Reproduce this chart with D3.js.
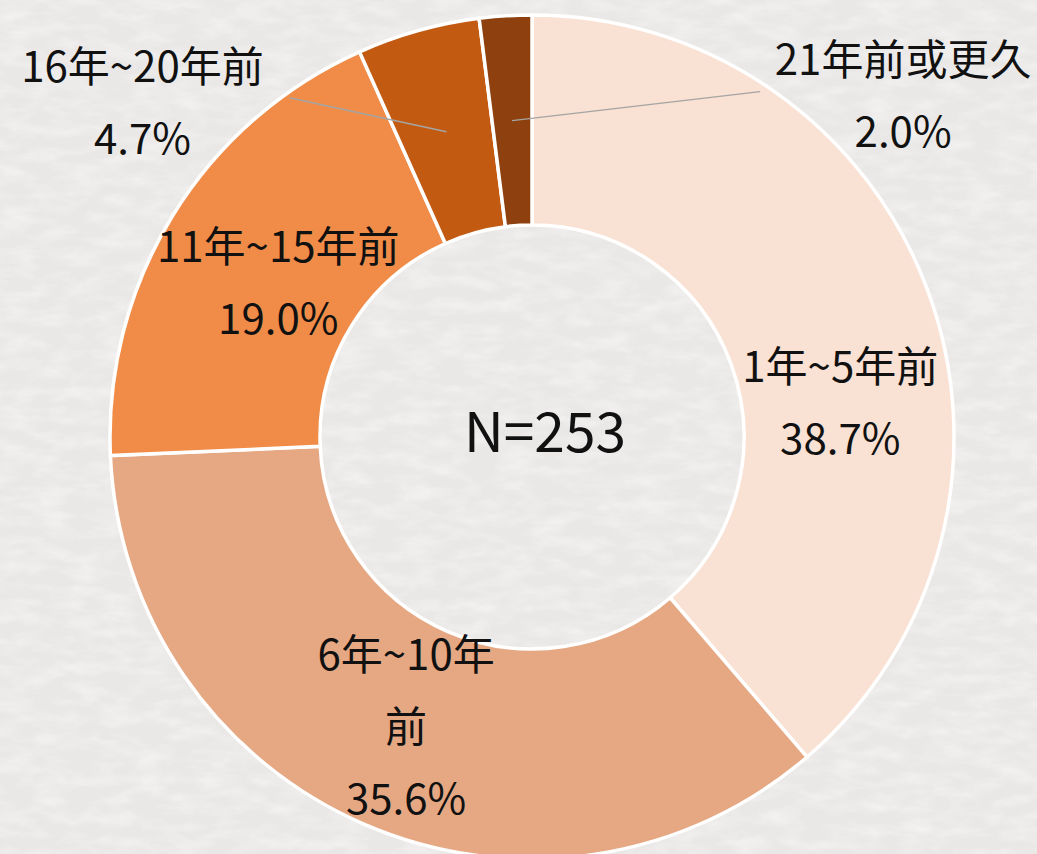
<!DOCTYPE html>
<html>
<head>
<meta charset="utf-8">
<script src="https://cdn.jsdelivr.net/npm/d3@7"></script>
<style>
  html, body { margin: 0; padding: 0; background: #ecebea; }
  svg { display: block; }
  text { font-family: "Noto Sans CJK TC", "Noto Sans", sans-serif; fill: #111; }
</style>
</head>
<body>
<svg id="vis"></svg>
<script>
// data
var categories = ["1年~5年前", "6年~10年前", "11年~15年前", "16年~20年前", "21年前或更久"];
var percents = [38.7, 35.6, 19.0, 4.7, 2.0];
var sampleSize = 253;
var sliceColours = ["#f9e1d3", "#e6a883", "#f08c48", "#c35a12", "#8e410e"];

// how each label is broken into lines
var labelLines = [
    ["1年~5年前"],
    ["6年~10年", "前"],
    ["11年~15年前"],
    ["16年~20年前"],
    ["21年前或更久"]
];
// label block centre, offset from the slice centroid
var labelShift = [[11, 73], [0, -4], [16, 9], [-304, -32], [391, -28]];
// leader lines only for the two thin slices, end point offset from centroid
var leaderEnd = [null, null, null, [-157, -34], [248, -29]];

var w = 1037;
var h = 854;
var cx = 532, cy = 437;
var outerR = 422, innerR = 212;
var lineGap = 72;

var svg = d3.select("#vis").attr("width", w).attr("height", h);

// paper texture background
var defs = svg.append("defs");
var filt = defs.append("filter").attr("id", "paper")
    .attr("x", 0).attr("y", 0).attr("width", "100%").attr("height", "100%");
filt.append("feTurbulence")
    .attr("type", "fractalNoise")
    .attr("baseFrequency", "0.03 0.08")
    .attr("numOctaves", 4)
    .attr("seed", 3)
    .attr("result", "noise");
filt.append("feColorMatrix")
    .attr("in", "noise")
    .attr("type", "matrix")
    .attr("values", "0 0 0 0 1  0 0 0 0 1  0 0 0 0 1  0 0 0 1.3 -0.5");

svg.append("rect").attr("width", w).attr("height", h).attr("fill", "#eae8e7");
svg.append("rect").attr("width", w).attr("height", h)
    .attr("filter", "url(#paper)").attr("opacity", 0.6);

var g = svg.append("g").attr("transform", "translate(" + cx + "," + cy + ")");

var pie = d3.pie().sort(null).value(function(d) { return d; });
var arcs = pie(percents);

var arc = d3.arc().innerRadius(innerR).outerRadius(outerR);
var midArc = d3.arc().innerRadius((innerR + outerR) / 2).outerRadius((innerR + outerR) / 2);

g.selectAll("path.slice")
    .data(arcs)
    .enter()
    .append("path")
    .attr("class", "slice")
    .attr("d", arc)
    .attr("fill", function(d, i) { return sliceColours[i]; })
    .attr("stroke", "#ffffff")
    .attr("stroke-width", 3.5)
    .attr("stroke-linejoin", "miter");

// leader lines
g.selectAll("line.leader")
    .data(arcs.filter(function(d, i) { return leaderEnd[i]; }))
    .enter()
    .append("line")
    .attr("class", "leader")
    .attr("x1", function(d) { return midArc.centroid(d)[0]; })
    .attr("y1", function(d) { return midArc.centroid(d)[1]; })
    .attr("x2", function(d) { return midArc.centroid(d)[0] + leaderEnd[d.index][0]; })
    .attr("y2", function(d) { return midArc.centroid(d)[1] + leaderEnd[d.index][1]; })
    .attr("stroke", "#a5a5a5")
    .attr("stroke-width", 1.5);

// labels
var labels = g.selectAll("g.label")
    .data(arcs)
    .enter()
    .append("g")
    .attr("class", "label")
    .attr("transform", function(d, i) {
        var c = midArc.centroid(d);
        return "translate(" + (c[0] + labelShift[i][0]) + "," + (c[1] + labelShift[i][1]) + ")";
    });

labels.each(function(d, i) {
    var lines = labelLines[i].concat([percents[i].toFixed(1) + "%"]);
    var top = -(lines.length - 1) * lineGap / 2;
    d3.select(this).selectAll("text")
        .data(lines)
        .enter()
        .append("text")
        .attr("text-anchor", "middle")
        .attr("dominant-baseline", "central")
        .attr("y", function(t, j) { return top + j * lineGap; })
        .style("font-size", "42px")
        .text(function(t) { return t; });
});

// centre text
g.append("text")
    .attr("x", 13)
    .attr("y", -9)
    .attr("text-anchor", "middle")
    .attr("dominant-baseline", "central")
    .style("font-size", "55px")
    .text("N=" + sampleSize);
</script>
</body>
</html>
